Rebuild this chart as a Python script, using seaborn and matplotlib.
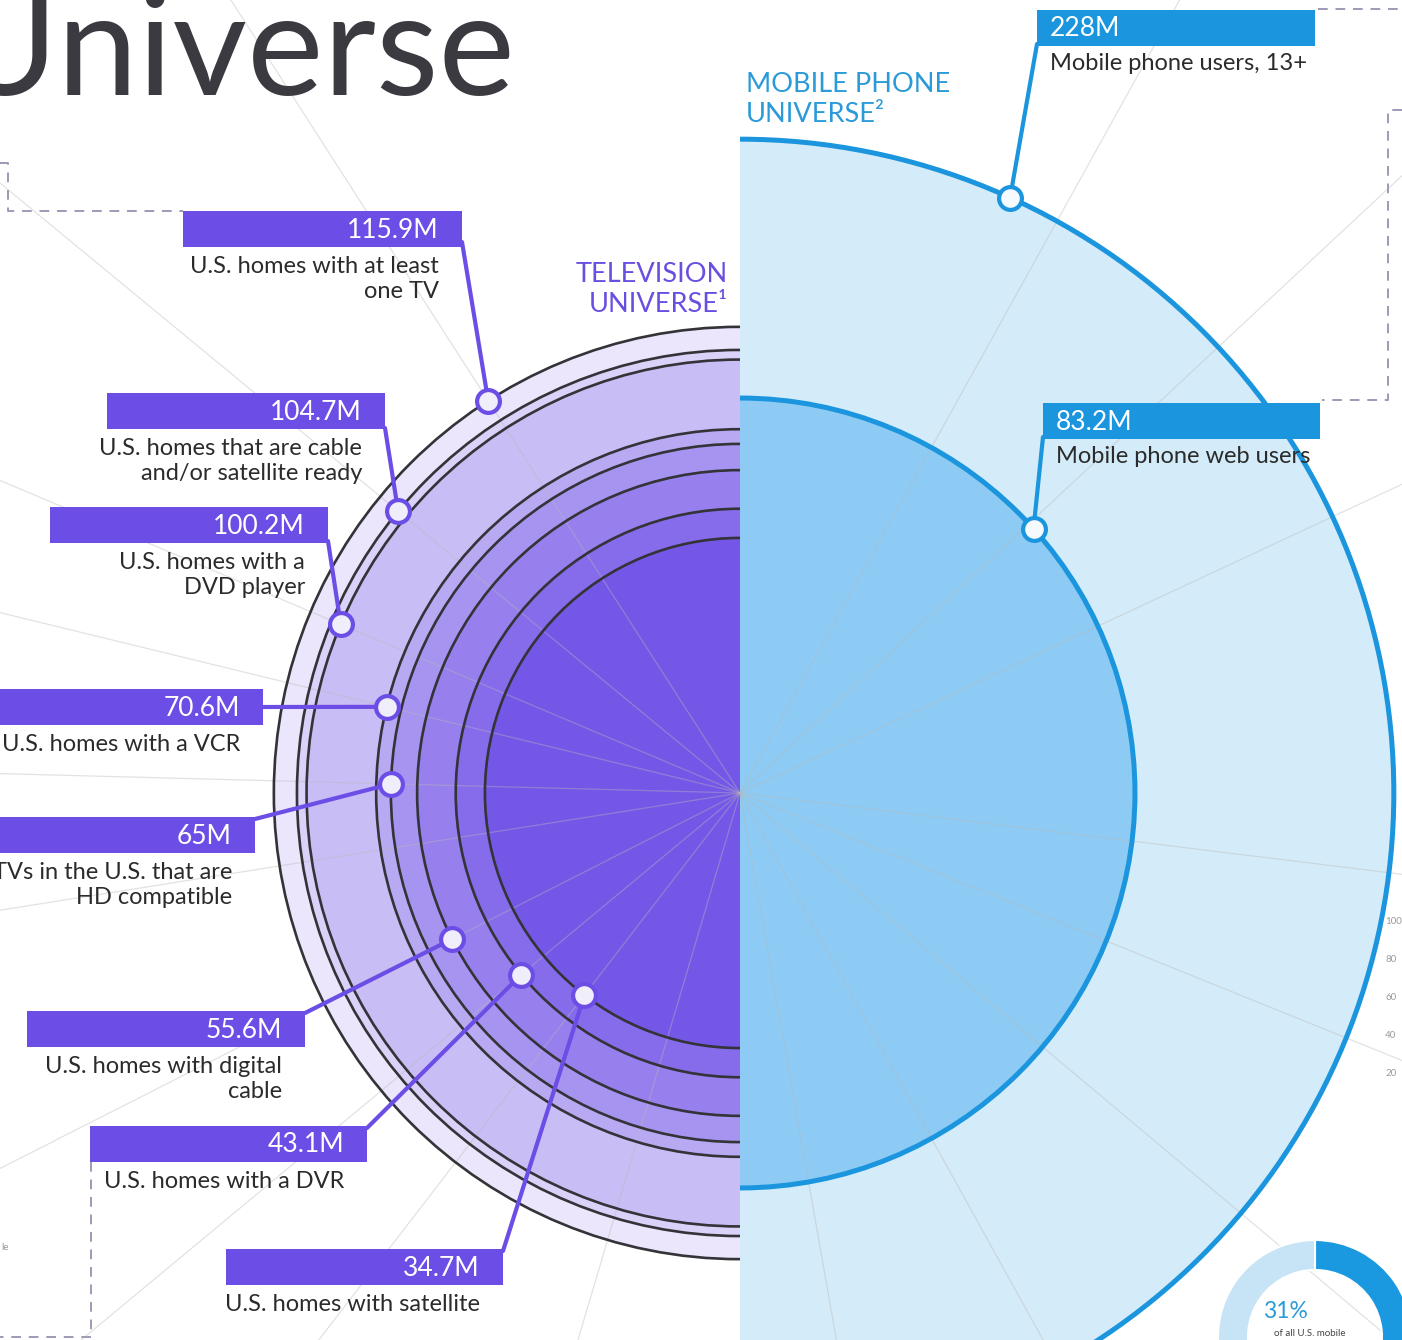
import numpy as np
import pandas as pd
import seaborn as sns
import matplotlib.pyplot as plt
from matplotlib.patches import Wedge, Arc, Rectangle

# ---- data ----
tv_values = [115.9, 104.7, 100.2, 70.6, 65.0, 55.6, 43.1, 34.7]
tv_value_labels = ["115.9M", "104.7M", "100.2M", "70.6M", "65M", "55.6M", "43.1M", "34.7M"]
tv_descriptions = [
    "U.S. homes with at least\none TV",
    "U.S. homes that are cable\nand/or satellite ready",
    "U.S. homes with a\nDVD player",
    "U.S. homes with a VCR",
    "TVs in the U.S. that are\nHD compatible",
    "U.S. homes with digital\ncable",
    "U.S. homes with a DVR",
    "U.S. homes with satellite",
]
mobile_values = [228.0, 83.2]
mobile_value_labels = ["228M", "83.2M"]
mobile_descriptions = ["Mobile phone users, 13+", "Mobile phone web users"]
donut_share = 31
side_ticks = ["100", "80", "60", "40", "20"]

# ---- layout (pixels, y down) ----
W, H = 1402, 1340
CX, CY = 740, 793
PX_PER_UNIT = 43.3  # circle radius = PX_PER_UNIT * sqrt(millions)

tv_angles = [122.7, 140.5, 157.1, 166.3, 178.5, 206.9, 219.7, 232.4]
tv_boxes = [(183, 211, 462), (107, 393, 385), (50, 507, 328), (-5, 689, 263),
            (-5, 817, 255), (27, 1011, 305), (90, 1126, 367), (226, 1249, 503)]
tv_leader_from = [(462, 242), (385, 428), (328, 541), (263, 707),
                  (255, 819), (305, 1013), (367, 1128), (503, 1251)]
mobile_angles = [65.6, 42.0]
mobile_boxes = [(1037, 10, 1315), (1043, 403, 1320)]
mobile_leader_from = [(1037, 44), (1043, 437)]
spoke_angles = [122.7, 140.5, 157.1, 166.3, 178.5, 189.0, 206.9, 219.7, 232.4, 253.5,
                61.0, 43.0, 25.0, -7.0, -22.0, -40.0, -61.0, -80.0]
BOX_H = 36

PURPLE = "#6c4ee6"
BLUE = "#1b95dd"
DARK = "#3b3a40"

sns.set_theme(style="white")
plt.rcParams['font.family'] = ['Lato', 'DejaVu Sans']

fig = plt.figure(figsize=(W / 100, H / 100), dpi=100)
ax = fig.add_axes([0, 0, 1, 1])


def radius(v):
    return PX_PER_UNIT * np.sqrt(v)


def polar(v, ang):
    r = radius(v)
    a = np.deg2rad(ang)
    return CX + r * np.cos(a), CY - r * np.sin(a)


# TV half discs (left)
ring_colors = sns.blend_palette(["#ebe6fc", "#7557e8"], len(tv_values))
for v, c in zip(tv_values, ring_colors):
    ax.add_patch(Wedge((CX, CY), radius(v), 90, 270, facecolor=c, edgecolor='none', zorder=1))

# mobile half discs (right)
for v, c in zip(mobile_values, ["#d4ecf9", "#8dcbf4"]):
    ax.add_patch(Wedge((CX, CY), radius(v), -90, 90, facecolor=c, edgecolor='none', zorder=1))

# faint spokes
for a in spoke_angles:
    t = np.deg2rad(a)
    ax.plot([CX, CX + 2200 * np.cos(t)], [CY, CY - 2200 * np.sin(t)],
            color="#b8b8b8", lw=0.9, alpha=0.4, zorder=2)

# outlines
for v in tv_values:
    d = 2 * radius(v)
    ax.add_patch(Arc((CX, CY), d, d, theta1=90, theta2=270, color="#333338", lw=1.9, zorder=3))
for v in mobile_values:
    d = 2 * radius(v)
    ax.add_patch(Arc((CX, CY), d, d, theta1=-90, theta2=90, color=BLUE, lw=3.6, zorder=3))


# leader lines + boxes
def label(boxes, anchors, angles, values, vlabels, descs, color, side):
    for (l, t, r), (ax0, ay0), a, v, vl, ds in zip(boxes, anchors, angles, values, vlabels, descs):
        dx, dy = polar(v, a)
        ax.plot([ax0, dx], [ay0, dy], color=color, lw=3, zorder=4, solid_capstyle='round')
        ax.add_patch(Rectangle((l, t), r - l, BOX_H, facecolor=color, edgecolor='none', zorder=5))
        if side == 'right':
            ax.text(r - 23, t + BOX_H / 2 + 1, vl, color='white', fontsize=19,
                    ha='right', va='center', zorder=6)
            ax.text(r - 23, t + BOX_H + 9, ds, color="#2b2b2b", fontsize=17,
                    ha='right', va='top', multialignment='right', linespacing=1.22, zorder=6)
        else:
            ax.text(l + 13, t + BOX_H / 2 + 1, vl, color='white', fontsize=19,
                    ha='left', va='center', zorder=6)
            ax.text(l + 13, t + BOX_H + 7, ds, color="#2b2b2b", fontsize=17,
                    ha='left', va='top', linespacing=1.22, zorder=6)


label(tv_boxes, tv_leader_from, tv_angles, tv_values, tv_value_labels, tv_descriptions, PURPLE, 'right')
label(mobile_boxes, mobile_leader_from, mobile_angles, mobile_values, mobile_value_labels,
      mobile_descriptions, BLUE, 'left')

# dots on rings
dots = pd.DataFrame(
    [(*polar(v, a), 'tv') for v, a in zip(tv_values, tv_angles)] +
    [(*polar(v, a), 'mobile') for v, a in zip(mobile_values, mobile_angles)],
    columns=['x', 'y', 'group'])
sns.scatterplot(data=dots[dots.group == 'tv'], x='x', y='y', s=270, color="#f1eefc",
                edgecolor=PURPLE, linewidth=3.0, zorder=7, ax=ax, legend=False)
sns.scatterplot(data=dots[dots.group == 'mobile'], x='x', y='y', s=270, color="#f4fafe",
                edgecolor=BLUE, linewidth=3.0, zorder=7, ax=ax, legend=False)
ax.set_xlim(0, W)
ax.set_ylim(H, 0)
ax.set_aspect('equal')
ax.axis('off')

# titles
ax.text(515, 95, "Universe", fontsize=104, color=DARK, ha='right', va='baseline', zorder=6)
ax.text(728, 289, "TELEVISION\nUNIVERSE\u00b9", fontsize=19.5, color="#6a4ee0", ha='right',
        va='center', multialignment='right', linespacing=1.25, zorder=6)
ax.text(746, 100, "MOBILE PHONE\nUNIVERSE\u00b2", fontsize=19.5, color="#2a9ad8", ha='left',
        va='center', linespacing=1.25, zorder=6)

# dashed frames
dash = dict(color="#9c9ab6", lw=1.4, ls=(0, (5, 4)), zorder=2)
ax.plot([0, 8, 8, 183], [163, 163, 211, 211], **dash)
ax.plot([1318, 1402], [9, 9], **dash)
ax.plot([1402, 1388, 1388, 1322], [110, 110, 400, 400], **dash)
ax.plot([91, 91, 0], [1162, 1337, 1337], **dash)

# side tick remnants
for i, s in enumerate(side_ticks):
    ax.text(1385, 922 + 38 * i, s, fontsize=7, color="#9a9a9a", ha='left', va='center')
ax.text(1, 1248, "le", fontsize=7, color="#9a9a9a", ha='left', va='center')

# donut
DX, DY, DR, DW = 1315, 1337, 97, 30
end = -90 + 360 * donut_share / 100
ax.add_patch(Wedge((DX, DY), DR, -90, end, width=DW, facecolor="#1a98e0",
                   edgecolor='white', lw=1.5, zorder=4))
ax.add_patch(Wedge((DX, DY), DR, end, 270, width=DW, facecolor="#c7e4f6",
                   edgecolor='white', lw=1.5, zorder=4))
ax.text(1285, 1312, f"{donut_share}%", fontsize=16.5, color="#2a9ad8", ha='center', va='center', zorder=6)
ax.text(1310, 1333, "of all U.S. mobile", fontsize=7, color="#444444", ha='center', va='center', zorder=6)

fig.savefig("out.png", dpi=100)
